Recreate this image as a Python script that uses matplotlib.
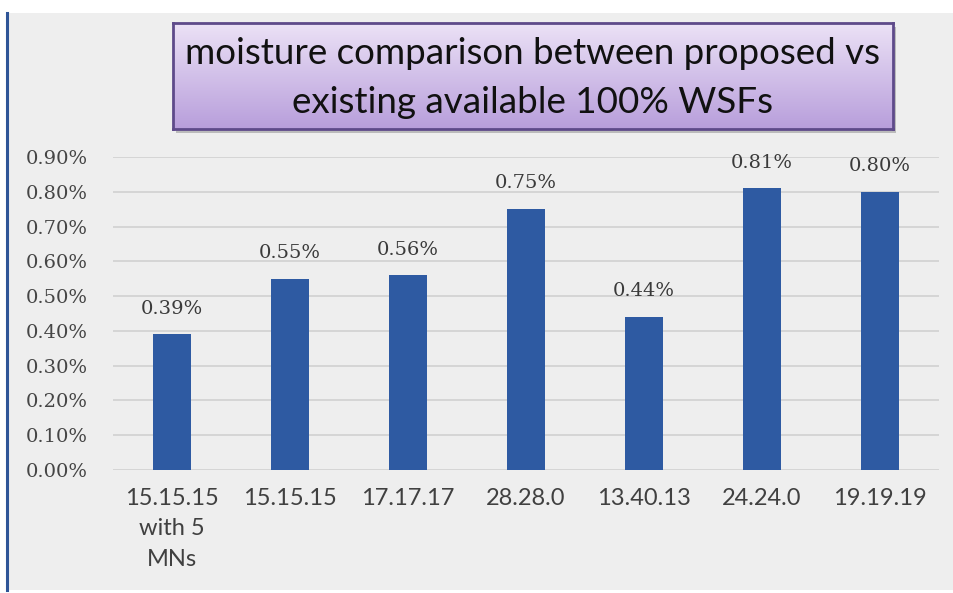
import matplotlib
matplotlib.use("Agg")
import matplotlib.pyplot as plt
import numpy as np
from matplotlib.patches import Rectangle

categories = ["15.15.15\nwith 5\nMNs", "15.15.15", "17.17.17", "28.28.0", "13.40.13", "24.24.0", "19.19.19"]
values = [0.39, 0.55, 0.56, 0.75, 0.44, 0.81, 0.80]
yticks = [0.0, 0.1, 0.2, 0.3, 0.4, 0.5, 0.6, 0.7, 0.8, 0.9]
title = "moisture comparison between proposed vs\nexisting available 100% WSFs"

W, H = 954, 593
fig = plt.figure(figsize=(W/100, H/100), dpi=100)
fig.patch.set_facecolor("white")

# grey panel background
fig.patches.append(Rectangle((8/W, 3/H), (W-8)/W, (H-16)/H, transform=fig.transFigure,
                             facecolor="#EEEEEE", edgecolor="none", zorder=-2))
# left blue line
fig.add_artist(plt.Line2D([7/W, 7/W], [3/H, (H-13)/H], transform=fig.transFigure,
                          color="#2F5597", lw=2.2, zorder=-1))

ax = fig.add_axes([113/W, (H-470)/H, 826/W, 313/H])
ax.set_facecolor("none")
x = np.arange(len(categories))
bars = ax.bar(x, values, width=0.32, color="#2E5AA2", zorder=3)
ax.set_xlim(-0.5, len(categories)-0.5)
ax.set_ylim(0, 0.9)
ax.set_yticks(yticks)
ax.set_yticklabels([f"{v:.2f}%" for v in yticks], family="DejaVu Serif", fontsize=14,
                   color="#454545")
ax.set_xticks(x)
ax.set_xticklabels(categories, fontsize=17, color="#404040", family="Lato", linespacing=1.55)
ax.tick_params(axis="both", length=0)
ax.tick_params(axis="x", pad=13)
ax.tick_params(axis="y", pad=63)
for lab in ax.get_yticklabels():
    lab.set_horizontalalignment("left")
ax.yaxis.grid(True, color="#D0D0D0", lw=1.2, zorder=0)
ax.set_axisbelow(True)
for s in ax.spines.values():
    s.set_visible(False)

for xi, v in zip(x, values):
    ax.annotate(f"{v:.2f}%", (xi, v), xytext=(0, 12), textcoords="offset points",
                ha="center", va="bottom", family="DejaVu Serif", fontsize=14, color="#3A3A3A")

# title box with gradient
bx0, by0, bw, bh = 173/W, (H-129)/H, 720/W, 106/H
fig.patches.append(Rectangle((bx0+3/W, by0-4/H), bw, bh, transform=fig.transFigure,
                             facecolor="#9A9A9A", edgecolor="none", alpha=0.6, zorder=4))
gax = fig.add_axes([bx0, by0, bw, bh], zorder=5)
grad = np.linspace(0, 1, 256).reshape(-1, 1)
top = np.array([0.925, 0.885, 0.965])
bot = np.array([0.72, 0.62, 0.86])
img = top[None, None, :] * (1 - grad[:, :, None]) + bot[None, None, :] * grad[:, :, None]
gax.imshow(img, aspect="auto", extent=[0, 1, 0, 1])
gax.set_xticks([]); gax.set_yticks([])
for s in gax.spines.values():
    s.set_color("#5E4A8A"); s.set_linewidth(2)
gax.text(0.5, 0.48, title, ha="center", va="center", fontsize=26.5, family="Lato",
         color="#111111", linespacing=1.6, transform=gax.transAxes)

fig.savefig("out.png", dpi=100)
